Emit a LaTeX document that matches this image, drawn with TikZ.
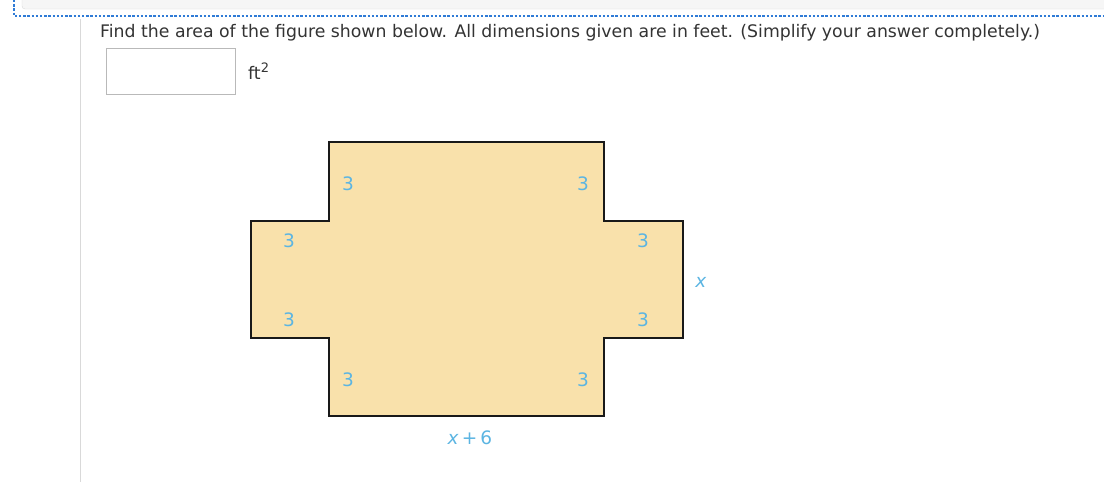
\documentclass[tikz,border=0pt]{standalone}
\usepackage{fontspec}
\setmainfont{Liberation Serif}
\newfontfamily\promptfont{DejaVu Sans}
\usepackage{tikz}
\usetikzlibrary{positioning,calc}
\definecolor{shapefill}{HTML}{F9E1AB}
\definecolor{dimblue}{HTML}{5CB5E2}
\definecolor{linkblue}{HTML}{2F7BD6}
\definecolor{textgray}{HTML}{333333}
\tikzstyle{dimlabel}=[text=dimblue, font=\promptfont\fontsize{18.5}{18.5}\selectfont, inner sep=0pt]
\tikzstyle{prompt}=[text=textgray, font=\promptfont\fontsize{17.3}{17.3}\selectfont, inner sep=0pt]
\tikzstyle{answerbox}=[draw=gray!55, minimum width=129pt, minimum height=46pt, inner sep=0pt]
\tikzstyle{outline}=[draw=black!90, line width=2.5pt, fill=shapefill, line join=miter]
\newcommand{\dimlabel}[3]{node (#1)[dimlabel] at (#2) {#3}}

\begin{document}
\begin{tikzpicture}[x=1pt,y=-1pt]
  \useasboundingbox (0,0) rectangle (1104,482);

  % page frame
  \draw[gray!30, fill=gray!7, rounded corners=3pt] (22,-6) rectangle (1112,9);
  \draw[linkblue, line width=2.6pt, dash pattern=on 2.4pt off 1.8pt] (14,0) -- (14,16) -- (1104,16);
  \draw[gray!30] (80,19) -- (80,482);

  % question
  \node (question)[prompt, anchor=base west] at (100,37)
    {Find the area of the figure shown below. All dimensions given are in feet. (Simplify your answer completely.)};
  \node (answer)[answerbox, anchor=north west] at (106,48) {};
  \node (unit)[prompt, anchor=base west] at (248,79)
    {ft\raisebox{7pt}{\fontsize{13}{13}\selectfont 2}};

  % figure
  \path[outline] (329,142) -- (604,142) -- (604,221) -- (683,221) -- (683,338)
    -- (604,338) -- (604,416) -- (329,416) -- (329,338) -- (251,338)
    -- (251,221) -- (329,221) -- cycle;

  % dimensions
  \path \dimlabel{tl}{348,184}{3};
  \path \dimlabel{tr}{583,184}{3};
  \path \dimlabel{lt}{289,241}{3};
  \path \dimlabel{rt}{643,241}{3};
  \path \dimlabel{lb}{289,320}{3};
  \path \dimlabel{rb}{643,320}{3};
  \path \dimlabel{bl}{348,380}{3};
  \path \dimlabel{br}{583,380}{3};
  \path \dimlabel{height}{701,282}{\textit{x}};
  \path \dimlabel{width}{470,438}{\textit{x}\,+\,6};

\end{tikzpicture}
\end{document}
